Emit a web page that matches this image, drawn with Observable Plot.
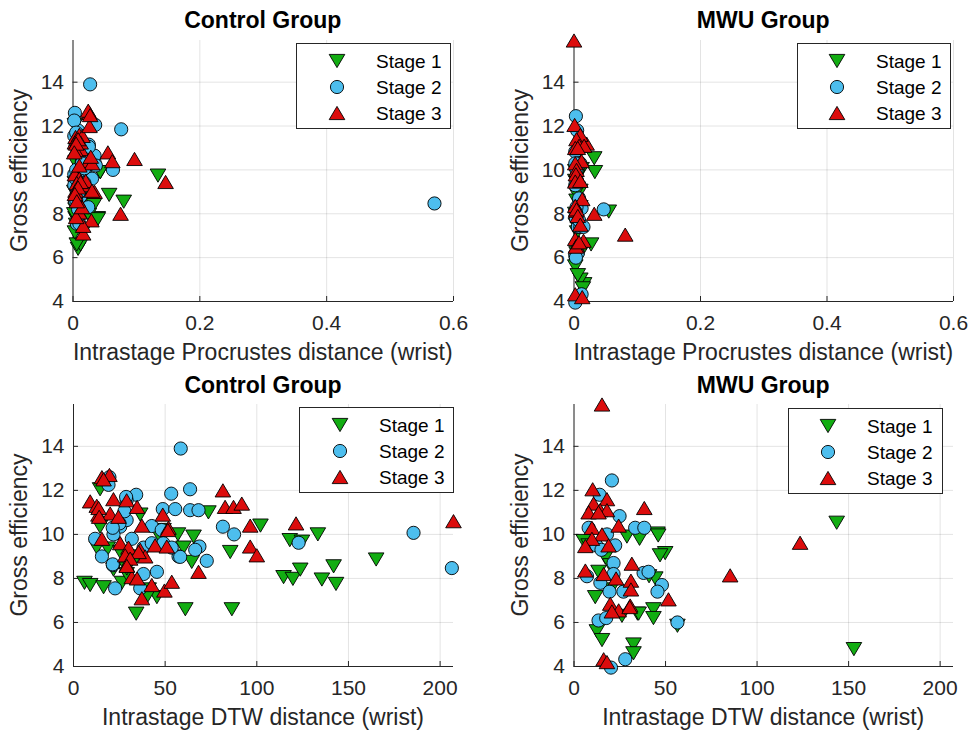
<!DOCTYPE html>
<html><head><meta charset="utf-8">
<script src="https://cdn.jsdelivr.net/npm/d3@7"></script>
<script src="https://cdn.jsdelivr.net/npm/@observablehq/plot@0.6"></script>
<style>
body{margin:0;background:#fff;width:969px;height:736px;overflow:hidden;position:relative;font-family:"Liberation Sans",Arial,Helvetica,sans-serif;}
.panel{position:absolute;}
</style></head><body>
<div id="p0" class="panel" style="left:0px;top:0px"></div>
<div id="p1" class="panel" style="left:484px;top:0px"></div>
<div id="p2" class="panel" style="left:0px;top:368px"></div>
<div id="p3" class="panel" style="left:484px;top:368px"></div>
<script>
// ---------- DATA ----------
const stageNames = ["Stage 1", "Stage 2", "Stage 3"];
const groupTitles = ["Control Group", "MWU Group"];
const xLabels = ["Intrastage Procrustes distance (wrist)", "Intrastage DTW distance (wrist)"];
const yLabel = "Gross efficiency";
const procTicks = [0, 0.2, 0.4, 0.6];
const dtwTicks = [0, 50, 100, 150, 200];
const effTicks = [4, 6, 8, 10, 12, 14];

// Control group
const ctrlS1Eff  = [7.8,7.7,7.6,7.8,6.4,6.6,6.6,7.15,7.5,11.0,10.0,9.9,9.2,8.75,9.4,10.35,9.4,8.4,8.2,10.9,9.9,9.0,12.05,10.4,9.74,9.67,10.0,8.06,7.98,8.4,7.95,8.55,7.75,8.86,9.36,9.2,8.45,10.2,7.15];
const ctrlS1Proc = [0.004,0.006,0.010,0.039,0.008,0.012,0.006,0.015,0.005,0.012,0.020,0.043,0.010,0.018,0.008,0.004,0.003,0.030,0.004,0.006,0.043,0.002,0.003,0.025,0.134,0.010,0.015,0.020,0.002,0.033,0.025,0.080,0.039,0.057,0.012,0.005,0.008,0.028,0.003];
const ctrlS1Dtw  = [6,9.1,16.4,26.4,34.2,61,86.4,45.5,41,73.6,57,65.5,85.5,64.5,60,14.5,12.7,21.8,29,36.4,47,34.5,14.5,102,118,124.6,133.3,114.6,119.7,123.7,135.5,141.9,143.2,165.1,18.7,25.5,29.1,49.1,40];

const ctrlS2Eff  = [13.9,12.6,11.8,11.85,12.05,11.15,11.15,11.1,11.1,10.35,10.0,9.45,8.8,9.0,9.3,8.3,7.55,9.0,8.6,9.8,10.35,10.65,10.38,7.55,8.2,10.0,9.8,9.4,9.6,9.6,11.55,10.07,8.47,9.62,12.25,11.7,10.5,10.3,8.64,8.98,9.4,10.2,11.05];
const ctrlS2Proc = [0.027,0.003,0.008,0.076,0.035,0.006,0.025,0.010,0.004,0.015,0.063,0.004,0.012,0.006,0.002,0.024,0.006,0.010,0.003,0.002,0.034,0.034,0.014,0.010,0.008,0.005,0.020,0.012,0.008,0.030,0.002,0.018,0.570,0.004,0.002,0.005,0.015,0.014,0.005,0.009,0.018,0.036,0.025];
const ctrlS2Dtw  = [58.5,19.6,34.2,53.3,63.6,48.7,55.5,63.6,68.2,81.5,87.6,68.7,72.7,57.3,66.4,45.5,22.7,15.5,21.5,11.8,25.5,29,42.7,36.4,38.2,21.8,31.8,38.2,42.7,49,29,185.5,206.4,122.8,19.1,28.7,25.1,21.4,21.4,58.2,53.6,48.1,27.8];

const ctrlS3Eff  = [11.5,11.3,12.6,12.7,11.6,11.55,11.25,10.9,10.95,10.8,10.4,10.9,10.3,9.8,9.6,9.4,9.3,9.05,9.0,8.6,8.06,8.0,7.7,7.1,7.45,7.85,9.5,9.45,8.3,12.0,11.25,11.25,11.4,10.4,9.45,9.05,10.5,10.6,11.2,10.8,9.2,8.9,8.57,10.2,12.5];
const ctrlS3Proc = [0.004,0.006,0.026,0.024,0.010,0.015,0.003,0.008,0.012,0.055,0.025,0.004,0.030,0.003,0.010,0.006,0.018,0.004,0.034,0.008,0.010,0.075,0.029,0.016,0.016,0.005,0.020,0.012,0.014,0.026,0.006,0.012,0.008,0.062,0.146,0.030,0.097,0.028,0.005,0.002,0.008,0.003,0.006,0.010,0.027];
const ctrlS3Dtw  = [9.1,12.7,15.5,19.6,21.8,29,34.7,13.6,20,24.5,37.3,48.7,51.8,15.5,25.5,30,36.4,28.2,39.1,29.1,31.8,34.7,42.7,37.3,49.6,53.6,44.5,50.9,68.2,81.5,82.7,87.3,91.8,96.4,96.4,100,121.4,207.3,13.7,14,35.5,30.9,29.1,51.5,16.4];

// MWU group
const mwuS1Eff  = [10.53,4.79,5.85,10.04,9.15,9.05,9.9,9.8,8.0,6.6,6.2,6.4,5.0,4.6,8.95,7.15,5.6,5.2,9.95,6.4,8.6,8.3,9.7,8.1,6.3,7.5,9.5];
const mwuS1Proc = [0.032,0.016,0.004,0.012,0.006,0.010,0.033,0.008,0.002,0.027,0.004,0.006,0.010,0.014,0.003,0.005,0.002,0.006,0.002,0.008,0.004,0.010,0.005,0.055,0.012,0.003,0.002];
const mwuS1Dtw  = [143.5,152.9,56.5,45.6,49.8,47,28.9,35.8,44.4,43.4,43.4,34.7,32.5,32.5,17.1,11.6,12.5,15.3,46,35.3,19.8,13.4,5.3,41,26.2,20.2,8];

const mwuS2Eff  = [12.45,11.8,10.83,10.3,10.3,10.3,9.5,8.7,8.2,7.8,7.4,7.4,8.25,8.3,7.7,7.4,6.09,6.2,6.0,4.33,3.95,8.1,9.5,9.3,10.0];
const mwuS2Proc = [0.003,0.005,0.002,0.010,0.006,0.002,0.004,0.008,0.047,0.003,0.006,0.010,0.012,0.004,0.008,0.015,0.002,0.006,0.003,0.012,0.002,0.002,0.005,0.002,0.004];
const mwuS2Dtw  = [20.7,14,24.9,33.4,38.4,8,12.2,21.6,21.6,14.4,19.4,27,38,40.7,48,45.6,13.4,17.6,56.5,28,20.2,7.1,22.5,15,18];

const mwuS3Eff  = [15.9,11.2,9.62,8.14,12.05,11.6,11.4,11.1,11.0,11.1,11.0,10.4,10.3,10.0,9.8,9.47,9.5,8.67,8.36,8.2,7.9,7.5,6.85,6.55,6.77,6.5,6.7,4.33,7.05,8.0,4.2];
const mwuS3Proc = [0.000,0.020,0.005,0.003,0.001,0.010,0.004,0.008,0.002,0.016,0.006,0.012,0.002,0.004,0.003,0.002,0.010,0.013,0.002,0.004,0.006,0.010,0.002,0.004,0.015,0.003,0.008,0.002,0.081,0.032,0.013];
const mwuS3Dtw  = [15.3,38.4,123.5,85.3,10.2,18,10.7,14.3,8,18,13.4,24.4,9.8,15.3,9.8,6.2,18.9,31.6,6.2,16.2,31.1,31.1,19.8,24.4,30.7,20.7,30.4,16.2,51.6,23,18];

// ---------- STYLE ----------
const FONT = '"Liberation Sans", Arial, Helvetica, sans-serif';
const stageColors = ["#12ad12", "#4dbeee", "#dc0c0c"];
const R = 6.6;
function triSym(dir) {
  return { draw(ctx, size) {
    const s = Math.sqrt(size / (Math.PI * R * R));
    const w = 7.8 * s, h = 6.6 * s;
    if (dir > 0) { ctx.moveTo(0, -h); ctx.lineTo(w, h); ctx.lineTo(-w, h); }
    else { ctx.moveTo(0, h); ctx.lineTo(w, -h); ctx.lineTo(-w, -h); }
    ctx.closePath();
  }};
}
const stageSymbols = [triSym(-1), d3.symbolCircle, triSym(1)];

function rows(eff, xs) { return eff.map((y, i) => ({x: xs[i], y})); }

const Y_DOMAIN = [4, 15.9];

const panels = [
  {id:"p0", w:484, h:370, mL:72.5, mR:31, mT:40, mB:69, xDomain:[0,0.6], xTicks:procTicks,
   sets:[rows(ctrlS1Eff,ctrlS1Proc), rows(ctrlS2Eff,ctrlS2Proc), rows(ctrlS3Eff,ctrlS3Proc)],
   title:groupTitles[0], xLabel:xLabels[0], titleY:28.3, xLabY:359.5, yLabX:26.5,
   leg:{x:296, y:43, w:154, h:85, mx:337, tx:376}},
  {id:"p1", w:485, h:370, mL:89.5, mR:16, mT:40, mB:69, xDomain:[0,0.6], xTicks:procTicks,
   sets:[rows(mwuS1Eff,mwuS1Proc), rows(mwuS2Eff,mwuS2Proc), rows(mwuS3Eff,mwuS3Proc)],
   title:groupTitles[1], xLabel:xLabels[0], titleY:28.3, xLabY:359.5, yLabX:43.5,
   leg:{x:313, y:43, w:153, h:85, mx:353, tx:392}},
  {id:"p2", w:484, h:368, mL:73, mR:31, mT:36, mB:70, xDomain:[0,207.3], xTicks:dtwTicks,
   sets:[rows(ctrlS1Eff,ctrlS1Dtw), rows(ctrlS2Eff,ctrlS2Dtw), rows(ctrlS3Eff,ctrlS3Dtw)],
   title:groupTitles[0], xLabel:xLabels[1], titleY:24.5, xLabY:356.5, yLabX:26.5,
   leg:{x:299, y:39, w:154, h:85, mx:340, tx:379}},
  {id:"p3", w:485, h:368, mL:89.5, mR:16, mT:36, mB:70, xDomain:[0,207.3], xTicks:dtwTicks,
   sets:[rows(mwuS1Eff,mwuS1Dtw), rows(mwuS2Eff,mwuS2Dtw), rows(mwuS3Eff,mwuS3Dtw)],
   title:groupTitles[1], xLabel:xLabels[1], titleY:24.5, xLabY:356.5, yLabX:43.5,
   leg:{x:304, y:40, w:154, h:85, mx:344, tx:383}}
];

const AX = "#262626";
const fmt = d => String(d);
for (const p of panels) {
  const plotW = p.w - p.mL - p.mR, plotH = p.h - p.mT - p.mB;
  const xr = (p.xDomain[1] - p.xDomain[0]) * 5 / plotW;
  const yr = (Y_DOMAIN[1] - Y_DOMAIN[0]) * 5 / plotH;
  const marks = [
    Plot.gridX({ticks: p.xTicks, stroke: "#000", strokeOpacity: 0.11}),
    Plot.gridY({ticks: effTicks, stroke: "#000", strokeOpacity: 0.11}),
    Plot.ruleY([Y_DOMAIN[0]], {stroke: AX, strokeWidth: 1}),
    Plot.ruleX([p.xDomain[0]], {stroke: AX, strokeWidth: 1}),
    Plot.ruleX(p.xTicks, {x: d => d, y1: () => Y_DOMAIN[0], y2: () => Y_DOMAIN[0] + yr, stroke: AX}),
    Plot.ruleY(effTicks, {y: d => d, x1: () => p.xDomain[0], x2: () => p.xDomain[0] + xr, stroke: AX}),
    Plot.axisX({ticks: p.xTicks, tickFormat: fmt, tickSize: 0, tickPadding: 14, fontSize: 21, label: null}),
    Plot.axisY({ticks: effTicks, tickFormat: fmt, tickSize: 0, tickPadding: 9, fontSize: 21, label: null})
  ];
  p.sets.forEach((data, i) => {
    marks.push(Plot.dot(data, {x: "x", y: "y", r: R, symbol: stageSymbols[i],
      fill: stageColors[i], stroke: "#000", strokeWidth: 0.9}));
  });
  const svg = Plot.plot({
    width: p.w, height: p.h,
    marginLeft: p.mL, marginRight: p.mR, marginTop: p.mT, marginBottom: p.mB,
    style: {fontFamily: FONT, fontSize: "21px", color: AX, background: "transparent", overflow: "visible"},
    x: {domain: p.xDomain, label: null},
    y: {domain: Y_DOMAIN, label: null},
    marks
  });
  document.getElementById(p.id).appendChild(svg);
  const s = d3.select(svg);
  const cx = p.mL + plotW / 2;
  const cy = p.mT + plotH / 2;
  s.append("text").attr("x", cx).attr("y", p.titleY).attr("text-anchor", "middle")
    .attr("font-family", FONT).attr("font-size", 23).attr("font-weight", "bold").attr("fill", "#000")
    .text(p.title);
  s.append("text").attr("x", cx).attr("y", p.xLabY).attr("text-anchor", "middle")
    .attr("font-family", FONT).attr("font-size", 23).attr("fill", AX).text(p.xLabel);
  s.append("text").attr("transform", `translate(${p.yLabX},${cy}) rotate(-90)`).attr("text-anchor", "middle")
    .attr("font-family", FONT).attr("font-size", 23).attr("fill", AX).text(yLabel);
  // legend
  const L = p.leg;
  const g = s.append("g");
  g.append("rect").attr("x", L.x + 0.5).attr("y", L.y + 0.5).attr("width", L.w).attr("height", L.h)
    .attr("fill", "#fff").attr("stroke", AX).attr("stroke-width", 1);
  stageNames.forEach((name, i) => {
    const ry = L.y + 18 + i * 26;
    g.append("path").attr("transform", `translate(${L.mx},${ry})`)
      .attr("d", d3.symbol().type(stageSymbols[i]).size(Math.PI * R * R)())
      .attr("fill", stageColors[i]).attr("stroke", "#000").attr("stroke-width", 0.9);
    g.append("text").attr("x", L.tx).attr("y", ry + 7).attr("text-anchor", "start").attr("font-family", FONT)
      .attr("font-size", 19).attr("fill", "#000").text(name);
  });
}
</script>
</body></html>
